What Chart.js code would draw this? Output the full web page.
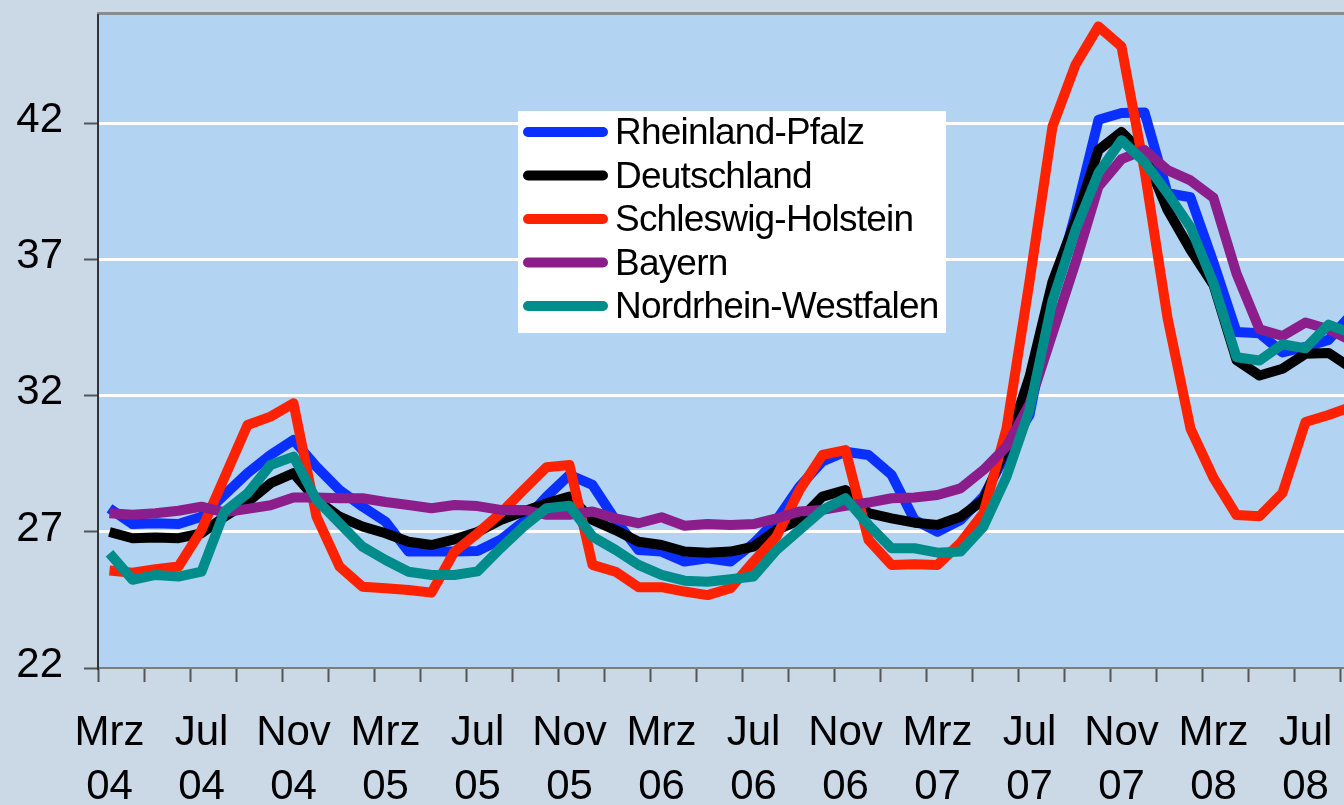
<!DOCTYPE html>
<html lang="de">
<head>
<meta charset="utf-8">
<title>Preisentwicklung Bundesländer</title>
<script src="https://cdn.jsdelivr.net/npm/chart.js@4/dist/chart.umd.min.js"></script>
<style>
    html, body { margin: 0; padding: 0; background: #cbd8e6; overflow: hidden; }
    #wrap { position: relative; width: 1363px; height: 805px; }
</style>
</head>
<body>
<div id="wrap"><canvas id="chart"></canvas></div>
<script>
// Monate Mrz 04 bis Sep 08
const categories = [
    "Mrz 04", "Apr 04", "Mai 04", "Jun 04", "Jul 04", "Aug 04", "Sep 04", "Okt 04", "Nov 04", "Dez 04",
    "Jan 05", "Feb 05", "Mrz 05", "Apr 05", "Mai 05", "Jun 05", "Jul 05", "Aug 05", "Sep 05", "Okt 05", "Nov 05", "Dez 05",
    "Jan 06", "Feb 06", "Mrz 06", "Apr 06", "Mai 06", "Jun 06", "Jul 06", "Aug 06", "Sep 06", "Okt 06", "Nov 06", "Dez 06",
    "Jan 07", "Feb 07", "Mrz 07", "Apr 07", "Mai 07", "Jun 07", "Jul 07", "Aug 07", "Sep 07", "Okt 07", "Nov 07", "Dez 07",
    "Jan 08", "Feb 08", "Mrz 08", "Apr 08", "Mai 08", "Jun 08", "Jul 08", "Aug 08", "Sep 08"
];

// Beschriftete Monate auf der x-Achse
const tickLabels = ["Mrz 04", "Jul 04", "Nov 04", "Mrz 05", "Jul 05", "Nov 05", "Mrz 06",
    "Jul 06", "Nov 06", "Mrz 07", "Jul 07", "Nov 07", "Mrz 08", "Jul 08"];

const yTicks = [22, 27, 32, 37, 42];

const rheinlandPfalz = [27.87, 27.29, 27.32, 27.29, 27.56, 28.36, 29.16, 29.83, 30.38, 29.4,
    28.54, 27.93, 27.38, 26.28, 26.28, 26.28, 26.3, 26.71, 27.38, 28.3,
    29.1, 28.73, 27.44, 26.34, 26.28, 25.91, 26.03, 25.91, 26.58, 27.44,
    28.67, 29.59, 29.95, 29.83, 29.1, 27.44, 27.01, 27.44, 28.3, 29.9,
    31.3, 35.6, 38.7, 42.15, 42.4, 42.42, 39.45, 39.3, 36.9, 34.35,
    34.3, 33.6, 33.8, 34.06, 35.0];

const deutschland = [27.0, 26.77, 26.8, 26.77, 26.95, 27.56, 28.1, 28.79, 29.16, 28.18,
    27.56, 27.2, 26.95, 26.64, 26.52, 26.73, 27.0, 27.44, 27.75, 28.05,
    28.3, 27.44, 27.07, 26.64, 26.52, 26.28, 26.24, 26.28, 26.46, 27.07,
    27.44, 28.3, 28.54, 27.69, 27.5, 27.34, 27.26, 27.56, 28.18, 30.14,
    32.7, 36.2, 38.45, 41.04, 41.7, 40.86, 38.84, 37.37, 36.08, 33.32,
    32.75, 33.0, 33.55, 33.58, 33.02];

const schleswigHolstein = [25.58, 25.5, 25.63, 25.73, 27.07, 29.0, 30.93, 31.24, 31.73, 27.56,
    25.73, 24.99, 24.93, 24.87, 24.77, 26.28, 26.95, 27.69, 28.54, 29.38,
    29.46, 25.79, 25.54, 24.97, 24.97, 24.81, 24.68, 24.93, 25.91, 26.83,
    28.54, 29.83, 30.01, 26.71, 25.79, 25.81, 25.79, 26.6, 27.69, 30.8,
    36.2, 41.9, 44.17, 45.58, 44.84, 40.3, 34.87, 30.8, 28.99, 27.62,
    27.58, 28.43, 31.04, 31.3, 31.6];

const bayern = [27.69, 27.63, 27.69, 27.78, 27.93, 27.72, 27.85, 27.98, 28.27, 28.27,
    28.24, 28.24, 28.1, 27.99, 27.87, 27.99, 27.95, 27.81, 27.81, 27.63,
    27.63, 27.75, 27.5, 27.32, 27.54, 27.23, 27.29, 27.26, 27.29, 27.5,
    27.75, 27.81, 27.96, 28.08, 28.24, 28.27, 28.36, 28.6, 29.28, 30.14,
    31.7, 34.3, 36.9, 39.7, 40.7, 41.04, 40.3, 39.92, 39.28, 36.5,
    34.45, 34.2, 34.7, 34.45, 34.03];

const nordrheinWestfalen = [26.22, 25.24, 25.42, 25.36, 25.54, 27.75, 28.42, 29.46, 29.77, 28.18,
    27.32, 26.46, 25.97, 25.54, 25.42, 25.42, 25.55, 26.4, 27.2, 27.87,
    27.96, 26.83, 26.34, 25.79, 25.42, 25.21, 25.17, 25.26, 25.36, 26.34,
    27.07, 27.81, 28.24, 27.26, 26.4, 26.4, 26.24, 26.28, 27.2, 29.03,
    31.49, 35.5, 38.1, 40.2, 41.4, 40.6, 39.45, 38.2, 36.14, 33.42,
    33.3, 33.9, 33.75, 34.62, 34.3];

const FONT = "'Liberation Sans', Arial, sans-serif";

// Hintergrund der Zeichenfläche und obere Rahmenlinie
const plotBackground = {
    id: "plotBackground",
    beforeDraw(chart) {
        const { ctx, chartArea } = chart;
        ctx.save();
        ctx.fillStyle = "#b2d3f1";
        ctx.fillRect(chartArea.left, chartArea.top, chartArea.right - chartArea.left, chartArea.bottom - chartArea.top);
        ctx.strokeStyle = "#8c8c8c";
        ctx.lineWidth = 3;
        ctx.beginPath();
        ctx.moveTo(chartArea.left - 1, chartArea.top - 1.5);
        ctx.lineTo(chartArea.right, chartArea.top - 1.5);
        ctx.stroke();
        ctx.restore();
    }
};

// Legende im Diagramm (weißes Feld)
const legendBox = {
    id: "legendBox",
    afterDatasetsDraw(chart) {
        const ctx = chart.ctx;
        ctx.save();
        ctx.fillStyle = "#ffffff";
        ctx.fillRect(518, 111, 428, 222);
        chart.data.datasets.forEach((ds, i) => {
            const y = 132 + i * 43.5;
            ctx.strokeStyle = ds.borderColor;
            ctx.lineWidth = 10;
            ctx.lineCap = "round";
            ctx.beginPath();
            ctx.moveTo(528, y);
            ctx.lineTo(603, y);
            ctx.stroke();
            ctx.fillStyle = "#000000";
            ctx.font = "37px " + FONT;
            ctx.letterSpacing = "-0.8px";
            ctx.textBaseline = "middle";
            ctx.fillText(ds.label, 615, y + 2);
        });
        ctx.restore();
    }
};

function makeSeries(label, data, color, order) {
    return {
        label: label,
        data: data,
        borderColor: color,
        backgroundColor: color,
        borderWidth: 10,
        borderJoinStyle: "round",
        pointRadius: 0,
        tension: 0,
        fill: false,
        order: order,
    };
}

const ctx = document.getElementById("chart").getContext("2d");
new Chart(ctx, {
    type: "line",
    data: {
        labels: categories,
        datasets: [
            makeSeries("Rheinland-Pfalz", rheinlandPfalz, "#0a30ff", 5),
            makeSeries("Deutschland", deutschland, "#000000", 4),
            makeSeries("Schleswig-Holstein", schleswigHolstein, "#ff2200", 3),
            makeSeries("Bayern", bayern, "#8c1e8c", 2),
            makeSeries("Nordrhein-Westfalen", nordrheinWestfalen, "#008c8a", 1),
        ],
    },
    options: {
        responsive: true,
        maintainAspectRatio: false,
        animation: false,
        layout: { padding: { top: 15, left: 0, right: 0, bottom: 0 } },
        plugins: {
            legend: { display: false },
            tooltip: { enabled: false },
        },
        scales: {
            x: {
                type: "category",
                offset: true,
                grid: {
                    offset: true,
                    drawOnChartArea: false,
                    drawTicks: true,
                    tickLength: 14,
                    tickWidth: 2,
                    tickColor: (c) => (c.index % 2 === 0 ? "#555555" : "rgba(0,0,0,0)"),
                },
                border: { display: true, color: "#7d7d7d", width: 2 },
                ticks: {
                    autoSkip: false,
                    minRotation: 0,
                    maxRotation: 0,
                    padding: 24,
                    color: "#000000",
                    font: { family: FONT, size: 42, lineHeight: 1.2857 },
                    callback: function (value, index) {
                        const lab = categories[index];
                        return tickLabels.includes(lab) ? lab.split(" ") : "";
                    },
                },
                afterFit(scale) {
                    scale.height = 137;
                    scale.paddingLeft = 0;
                    scale.paddingRight = 0;
                },
            },
            y: {
                min: 22,
                max: 46,
                afterBuildTicks(scale) {
                    scale.ticks = yTicks.map((v) => ({ value: v }));
                },
                grid: {
                    color: (c) => (c.tick && c.tick.value === 22 ? "rgba(0,0,0,0)" : "#ffffff"),
                    lineWidth: 3,
                    tickLength: 14,
                    tickWidth: 2,
                    tickColor: "#555555",
                },
                border: { display: true, color: "#333333", width: 2 },
                ticks: {
                    padding: 21,
                    labelOffset: -3,
                    color: "#000000",
                    font: { family: FONT, size: 42 },
                },
                afterFit(scale) {
                    scale.width = 98;
                    scale.paddingTop = 0;
                    scale.paddingBottom = 0;
                },
            },
        },
    },
    plugins: [plotBackground, legendBox],
});
</script>
</body>
</html>
